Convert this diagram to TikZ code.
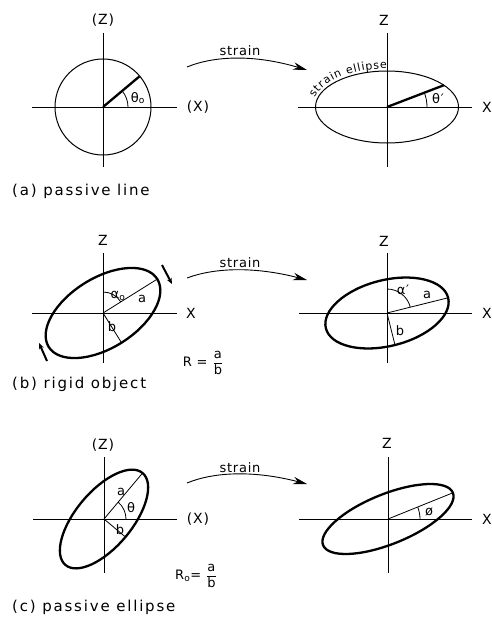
\documentclass[tikz,border=0pt]{standalone}
\usepackage{fontspec}
\setmainfont{DejaVu Sans}[LetterSpace=6]
\newfontfamily\curvefont{DejaVu Sans}
\usetikzlibrary{arrows.meta,decorations.text}
\tikzset{
  axisln/.style={line width=0.9pt},
  fineln/.style={line width=0.8pt},
  circln/.style={line width=1pt},
  boldln/.style={line width=2.3pt},
  lbl/.style={inner sep=0pt, font=\fontsize{14}{16}\selectfont},
  greek/.style={inner sep=0pt, font=\fontsize{13}{15}\selectfont},
  captionlbl/.style={inner sep=0pt, anchor=base west, font=\fontsize{15}{17}\selectfont\addfontfeature{LetterSpace=12}},
  strainlbl/.style={inner sep=0pt, anchor=base, font=\fontsize{13}{15}\selectfont},
  strainarr/.style={line width=0.9pt, -{Stealth[length=14pt,width=7.5pt]}},
  rotarr/.style={line width=2pt, -{Stealth[length=6pt,width=5pt]}}
}
\begin{document}
\begin{tikzpicture}[x=1pt,y=1pt]
\useasboundingbox (0,0) rectangle (492,-618);

% ---------- (a) left ----------
\begin{scope}[shift={(103,-107)}]
  \coordinate (Oa1) at (0,0);
  \draw[axisln] (-71,0) -- (74,0);
  \draw[axisln] (0,74) -- (0,-60);
  \draw[circln] (Oa1) circle[radius=48];
  \draw[boldln] (Oa1) -- (40:47.5);
  \draw[fineln] (25,0) arc[start angle=0,end angle=40,radius=25];
  \node[greek] (tha1) at (35,9) {θ\textsubscript{o}};
  \node[lbl] (Za1) at (0,87) {(Z)};
  \node[lbl] (Xa1) at (95,0) {(X)};
\end{scope}

% ---------- (a) right ----------
\begin{scope}[shift={(387,-107)}]
  \coordinate (Oa2) at (0,0);
  \draw[axisln] (-89,0) -- (85,0);
  \draw[axisln] (0,74) -- (0,-60);
  \draw[circln] (Oa2) ellipse[x radius=71.5, y radius=36];
  \draw[boldln] (Oa2) -- (56.9,21.8);
  \draw[fineln] (40,0) arc[start angle=0,end angle=21,radius=40];
  \node[greek] (tha2) at (51,8) {θ′};
  \node[lbl] (Za2) at (-3,87) {Z};
  \node[lbl] (Xa2) at (100,0) {X};
  \path[decorate, decoration={text along path, text align=fit to path,
        text={|\curvefont\fontsize{11}{13}\selectfont|strain ellipse}}]
        (166:74.5 and 38.5) arc[start angle=166, end angle=90, x radius=74.5, y radius=38.5];
\end{scope}

% ---------- strain arrows ----------
\coordinate (sa1) at (187,-67);  \coordinate (ea1) at (307,-70);
\draw[strainarr] (sa1) .. controls (215,-55.5) and (255,-54.5) .. (ea1);
\node[strainlbl] (st1) at (240,-56) {strain};

\coordinate (sa2) at (187,-278); \coordinate (ea2) at (307,-280);
\draw[strainarr] (sa2) .. controls (215,-267.5) and (255,-266.5) .. (ea2);
\node[strainlbl] (st2) at (240,-267) {strain};

\coordinate (sa3) at (187,-483); \coordinate (ea3) at (307,-484);
\draw[strainarr] (sa3) .. controls (215,-471.5) and (255,-470.5) .. (ea3);
\node[strainlbl] (st3) at (240,-472) {strain};

% ---------- (b) left ----------
\begin{scope}[shift={(103,-313)}]
  \coordinate (Ob1) at (0,0);
  \draw[axisln] (-71,0) -- (74,0);
  \draw[axisln] (0,60) -- (0,-50);
  \draw[boldln, rotate=32] (0,0) ellipse[x radius=64, y radius=35];
  \draw[fineln] (Ob1) -- (32:63);
  \draw[fineln] (Ob1) -- (-58:34);
  \draw[fineln] (90:21) arc[start angle=90,end angle=32,radius=21];
  \node[greek] (al1) at (15,17) {α\textsubscript{o}};
  \node[greek] (a1) at (39,14) {a};
  \node[greek] (b1) at (9,-14) {b};
  \node[lbl] (Zb1) at (0,73) {Z};
  \node[lbl] (Xb1) at (88,0) {X};
  \draw[rotarr] (59,48) -- (69,29);
  \draw[rotarr] (-56,-48) -- (-64,-30);
\end{scope}
\node[greek] (Rb) at (203,-363) {R = $\displaystyle\frac{\mbox{a}}{\mbox{b}}$};

% ---------- (b) right ----------
\begin{scope}[shift={(387,-313)}]
  \coordinate (Ob2) at (0,0);
  \draw[axisln] (-88,0) -- (85,0);
  \draw[axisln] (0,60) -- (0,-50);
  \draw[boldln, rotate=14] (0,0) ellipse[x radius=63, y radius=33];
  \draw[fineln] (Ob2) -- (14:62);
  \draw[fineln] (Ob2) -- (-76:32);
  \draw[fineln] (90:24) arc[start angle=90,end angle=14,radius=24];
  \node[greek] (al2) at (16,23) {α′};
  \node[greek] (a2) at (40,18) {a};
  \node[greek] (b2) at (13,-18) {b};
  \node[lbl] (Zb2) at (-3,72) {Z};
  \node[lbl] (Xb2) at (100,0) {X};
\end{scope}

% ---------- (c) left ----------
\begin{scope}[shift={(104,-519)}]
  \coordinate (Oc1) at (0,0);
  \draw[axisln] (-71,0) -- (73,0);
  \draw[axisln] (0,62) -- (0,-54);
  \draw[boldln, rotate=50] (0,0) ellipse[x radius=60, y radius=28];
  \draw[fineln] (Oc1) -- (50:59);
  \draw[fineln] (Oc1) -- (-40:27);
  \draw[fineln] (22,0) arc[start angle=0,end angle=50,radius=22];
  \node[greek] (thc) at (27,11) {θ};
  \node[greek] (a3) at (17,27) {a};
  \node[greek] (b3) at (16,-11) {b};
  \node[lbl] (Zc1) at (-1,74) {(Z)};
  \node[lbl] (Xc1) at (94,0) {(X)};
\end{scope}
\node[greek] (Rc) at (196,-576) {R\textsubscript{o}= $\displaystyle\frac{\mbox{a}}{\mbox{b}}$};

% ---------- (c) right ----------
\begin{scope}[shift={(388,-519)}]
  \coordinate (Oc2) at (0,0);
  \draw[axisln] (-89,0) -- (84,0);
  \draw[axisln] (0,62) -- (0,-54);
  \draw[boldln, rotate=22] (0,0) ellipse[x radius=70, y radius=25];
  \draw[fineln] (Oc2) -- (22:69);
  \draw[fineln] (32,0) arc[start angle=0,end angle=22,radius=32];
  \node[greek] (phc) at (41,7) {ø};
  \node[lbl] (Zc2) at (-1,76) {Z};
  \node[lbl] (Xc2) at (99,0) {X};
\end{scope}

% ---------- captions ----------
\node[captionlbl] (capa) at (12,-195) {(a) passive line};
\node[captionlbl] (capb) at (12,-388) {(b) rigid object};
\node[captionlbl] (capc) at (12,-611) {(c) passive ellipse};
\end{tikzpicture}
\end{document}
